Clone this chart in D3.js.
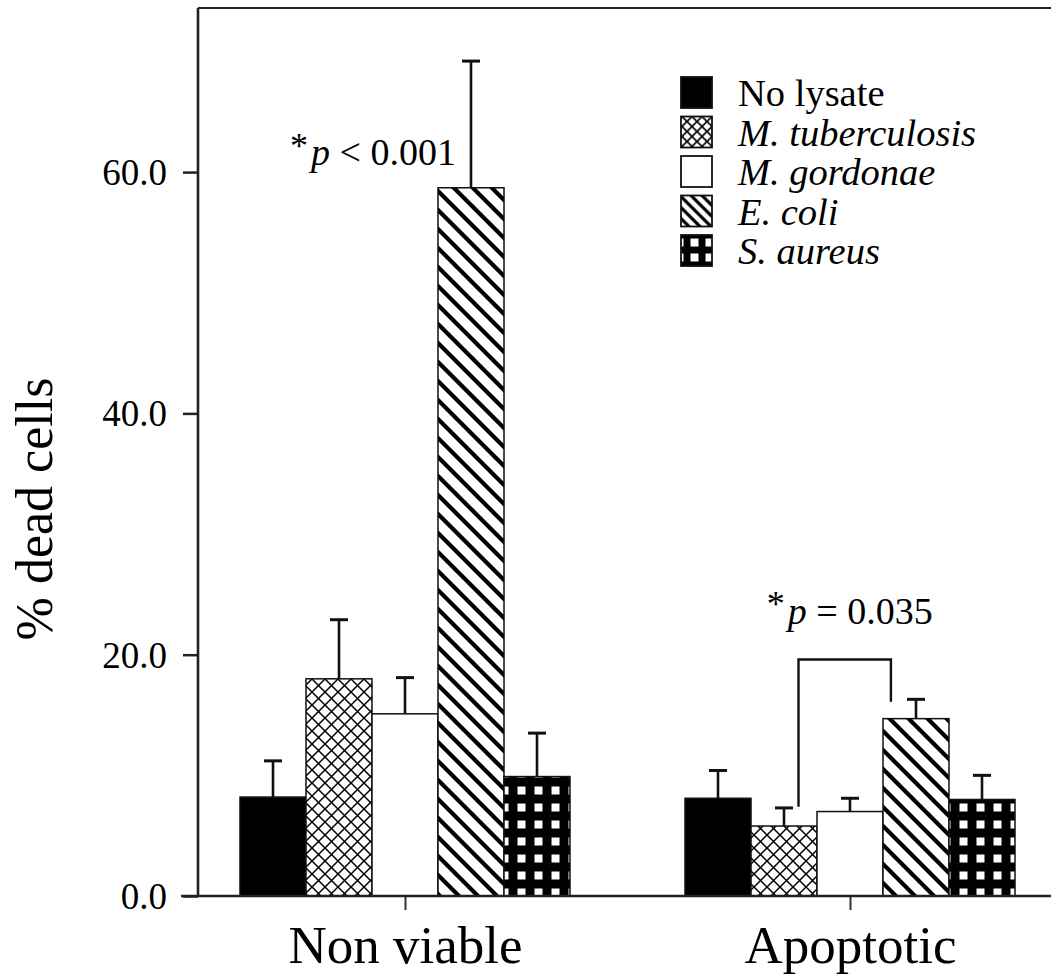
<!DOCTYPE html>
<html><head><meta charset="utf-8">
<script src="https://cdn.jsdelivr.net/npm/d3@7"></script>
<style>
html,body{margin:0;padding:0;background:#fff;}
svg{display:block;font-family:"Liberation Serif","Times New Roman",serif;}
</style></head>
<body><svg id="chart" width="1051" height="976"></svg>
<script>
// ---- data ----
const groups = ["Non viable", "Apoptotic"];
const series = ["No lysate", "M. tuberculosis", "M. gordonae", "E. coli", "S. aureus"];
const seriesItalic = [false, true, true, true, true];
const nonViableMeans = [8.2, 18.0, 15.1, 58.7, 9.9];
const nonViableErrors = [3.0, 4.9, 3.0, 10.5, 3.6];
const apoptoticMeans = [8.1, 5.8, 7.0, 14.7, 8.0];
const apoptoticErrors = [2.3, 1.5, 1.1, 1.6, 2.0];
const yTicks = [0, 20, 40, 60];
const yLabel = "% dead cells";
const annotation1 = {group: "Non viable", series: "E. coli", pText: "< 0.001", y: 60.6};
const annotation2 = {group: "Apoptotic", text: "= 0.035", y: 22.6, from: "M. tuberculosis", to: "E. coli", bracketTop: 19.6, fromBottom: 7.4, toBottom: 16.1};

const patterns = ["solid", "cross", "white", "diag", "squares"];

const svg = d3.select("#chart");
const plotLeft = 198, plotTop = 8, plotBottom = 896, plotRight = 1051;

const y = d3.scaleLinear().domain([0, 73.6]).range([plotBottom, plotTop]);
const xGroup = d3.scalePoint().domain(groups).range([405, 850]);
const barW = 66;
const xSeries = d3.scaleBand().domain(series).range([-barW * 2.5, barW * 2.5]).padding(0);

// ---- patterns ----
const defs = svg.append("defs");
{
  const p = defs.append("pattern").attr("id", "cross").attr("patternUnits", "userSpaceOnUse")
    .attr("width", 13).attr("height", 13).attr("x", 0).attr("y", 3);
  p.append("rect").attr("width", 13).attr("height", 13).attr("fill", "#fff");
  p.append("path").attr("d", "M0,0L13,13M13,0L0,13M-2,11L2,15M11,-2L15,2")
    .attr("stroke", "#000").attr("stroke-width", 1.5).attr("fill", "none");
}
{
  const w = 19;
  const p = defs.append("pattern").attr("id", "diag").attr("patternUnits", "userSpaceOnUse")
    .attr("width", w).attr("height", w);
  p.append("rect").attr("width", w).attr("height", w).attr("fill", "#fff");
  p.append("path").attr("d", `M-3,-3L${w+3},${w+3}M${w-3},-3L${w+3},3M-3,${w-3}L3,${w+3}`)
    .attr("stroke", "#000").attr("stroke-width", 4.2).attr("fill", "none");
}
{
  const w = 17;
  const p = defs.append("pattern").attr("id", "squares").attr("patternUnits", "userSpaceOnUse")
    .attr("width", w).attr("height", w).attr("x", 3).attr("y", 0);
  p.append("rect").attr("width", w).attr("height", w).attr("fill", "#000");
  p.append("rect").attr("x", 4.5).attr("y", 4.5).attr("width", 8).attr("height", 8).attr("fill", "#fff");
}
// small legend versions
{
  const p = defs.append("pattern").attr("id", "crossL").attr("patternUnits", "userSpaceOnUse")
    .attr("width", 10).attr("height", 10).attr("x", 681).attr("y", 0);
  p.append("rect").attr("width", 10).attr("height", 10).attr("fill", "#fff");
  p.append("path").attr("d", "M0,0L10,10M10,0L0,10M-2,8L2,12M8,-2L12,2")
    .attr("stroke", "#000").attr("stroke-width", 1.6).attr("fill", "none");
}
{
  const w = 11;
  const p = defs.append("pattern").attr("id", "diagL").attr("patternUnits", "userSpaceOnUse")
    .attr("width", w).attr("height", w).attr("x", 681);
  p.append("rect").attr("width", w).attr("height", w).attr("fill", "#fff");
  p.append("path").attr("d", `M-3,-3L${w+3},${w+3}M${w-3},-3L${w+3},3M-3,${w-3}L3,${w+3}`)
    .attr("stroke", "#000").attr("stroke-width", 3.2).attr("fill", "none");
}
{
  const w = 15;
  const p = defs.append("pattern").attr("id", "squaresL").attr("patternUnits", "userSpaceOnUse")
    .attr("width", w).attr("height", w).attr("x", 681).attr("y", 0);
  p.append("rect").attr("width", w).attr("height", w).attr("fill", "#000");
  p.append("rect").attr("x", 3.5).attr("y", 3.5).attr("width", 8).attr("height", 8).attr("fill", "#fff");
}

function fillFor(i, legend) {
  const t = patterns[i];
  if (t === "solid") return "#000";
  if (t === "white") return "#fff";
  return `url(#${t}${legend ? "L" : ""})`;
}

// ---- bars ----
const rows = [];
groups.forEach(g => {
  const means = g === "Non viable" ? nonViableMeans : apoptoticMeans;
  const errs = g === "Non viable" ? nonViableErrors : apoptoticErrors;
  series.forEach((s, i) => rows.push({g, s, i, v: means[i], e: errs[i]}));
});

const bars = svg.append("g");
bars.selectAll("rect").data(rows).join("rect")
  .attr("x", d => xGroup(d.g) + xSeries(d.s))
  .attr("y", d => y(d.v))
  .attr("width", xSeries.bandwidth())
  .attr("height", d => y(0) - y(d.v))
  .attr("fill", d => fillFor(d.i, false))
  .attr("stroke", "#111").attr("stroke-width", 1.5);

// error bars
const eb = svg.append("g").attr("stroke", "#111").attr("stroke-width", 2.6);
rows.forEach(d => {
  const cx = xGroup(d.g) + xSeries(d.s) + xSeries.bandwidth() / 2;
  eb.append("line").attr("x1", cx).attr("x2", cx).attr("y1", y(d.v)).attr("y2", y(d.v + d.e));
  eb.append("line").attr("x1", cx - 9).attr("x2", cx + 9).attr("y1", y(d.v + d.e)).attr("y2", y(d.v + d.e))
    .attr("stroke-width", 3);
});

// ---- axes ----
const yAxis = svg.append("g").attr("transform", `translate(${plotLeft},0)`)
  .call(d3.axisLeft(y).tickValues(yTicks).tickFormat(d3.format(".1f")).tickSize(15).tickPadding(16));
yAxis.select(".domain").remove();
yAxis.selectAll(".tick line").attr("stroke", "#222").attr("stroke-width", 2.5);
yAxis.selectAll(".tick text").attr("font-family", "Liberation Serif").attr("font-size", 37).attr("fill", "#000")
  .attr("dy", "0.34em");

const xAxis = svg.append("g").attr("transform", `translate(0,${plotBottom})`)
  .call(d3.axisBottom(xGroup).tickSize(14).tickPadding(15));
xAxis.select(".domain").remove();
xAxis.selectAll(".tick line").attr("stroke", "#333").attr("stroke-width", 2);
xAxis.selectAll(".tick text").attr("font-family", "Liberation Serif").attr("font-size", 53).attr("fill", "#000");

// frame lines
const frame = svg.append("g").attr("stroke", "#222").attr("stroke-width", 2.6).attr("fill", "none");
frame.append("line").attr("x1", plotLeft).attr("x2", plotLeft).attr("y1", plotTop).attr("y2", plotBottom);
frame.append("line").attr("x1", plotLeft - 17).attr("x2", plotRight).attr("y1", plotBottom).attr("y2", plotBottom);
frame.append("line").attr("x1", plotLeft).attr("x2", plotRight).attr("y1", plotTop).attr("y2", plotTop).attr("stroke-width", 2.2);

// y label
svg.append("text")
  .attr("transform", `translate(52,${(plotTop + plotBottom) / 2 + 57}) rotate(-90)`)
  .attr("text-anchor", "middle").attr("font-size", 52).attr("fill", "#000").text(yLabel);

// ---- annotations ----
function pText(sel, rest) {
  sel.append("tspan").attr("font-size", 36).attr("dy", "-0.2em").text("*");
  sel.append("tspan").attr("font-style", "italic").attr("dy", "0.2em").attr("dx", 3).text("p");
  sel.append("tspan").text(" " + rest);
}
{
  const cx = xGroup(annotation1.group) + xSeries(annotation1.series) + xSeries.bandwidth() / 2;
  const t = svg.append("text").attr("x", cx - 15).attr("y", y(annotation1.y))
    .attr("text-anchor", "end").attr("font-size", 38).attr("fill", "#000");
  pText(t, annotation1.pText);
}
{
  const gx = xGroup(annotation2.group);
  const x1 = gx + xSeries(annotation2.from) + xSeries.bandwidth() * 0.72;
  const x2 = gx + xSeries(annotation2.to) + xSeries.bandwidth() * 0.12;
  svg.append("path")
    .attr("d", `M${x1},${y(annotation2.fromBottom)}V${y(annotation2.bracketTop)}H${x2}V${y(annotation2.toBottom)}`)
    .attr("fill", "none").attr("stroke", "#111").attr("stroke-width", 2.4);
  const t = svg.append("text").attr("x", (x1 + x2) / 2 + 5).attr("y", y(annotation2.y))
    .attr("text-anchor", "middle").attr("font-size", 38).attr("fill", "#000");
  pText(t, annotation2.text);
}

// ---- legend ----
const legend = svg.append("g").attr("transform", "translate(681,77)");
series.forEach((s, i) => {
  const row = legend.append("g").attr("transform", `translate(0,${i * 39.5})`);
  row.append("rect").attr("x", 0).attr("y", 0).attr("width", 31).attr("height", 31)
    .attr("fill", fillFor(i, true)).attr("stroke", "#111").attr("stroke-width", 1.8);
  row.append("text").attr("x", 57).attr("y", 29).attr("font-size", 38.5)
    .attr("font-style", seriesItalic[i] ? "italic" : "normal").attr("fill", "#000").text(s);
});
</script>
</body></html>
